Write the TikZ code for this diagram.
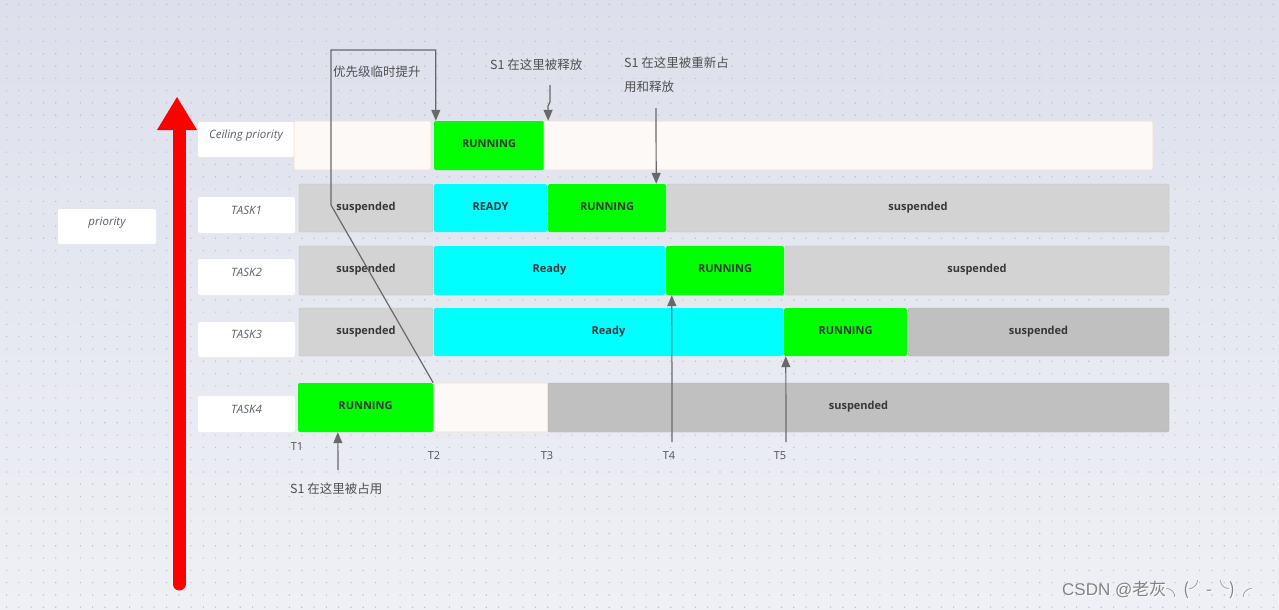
\documentclass[tikz,border=0pt]{standalone}
\usepackage{fontspec}
\setmainfont{Open Sans}
\newfontfamily\cjk{Noto Sans CJK SC}
\newfontfamily\lib{Liberation Sans}
\usetikzlibrary{arrows.meta,calc}
\definecolor{bgtop}{RGB}{221,224,236}
\definecolor{bgbot}{RGB}{239,240,245}
\definecolor{dotc}{RGB}{188,191,204}
\definecolor{runc}{RGB}{0,255,0}
\definecolor{readyc}{RGB}{0,255,255}
\definecolor{suspc}{RGB}{211,211,211}
\definecolor{suspd}{RGB}{192,192,192}
\definecolor{beige}{RGB}{253,249,246}
\definecolor{beigeb}{RGB}{246,222,203}
\definecolor{txtdark}{RGB}{55,55,55}
\definecolor{lbltxt}{RGB}{90,95,107}
\definecolor{linec}{RGB}{105,105,105}
\definecolor{annc}{RGB}{80,80,80}
\definecolor{wmc}{RGB}{130,130,130}
\newcommand\gbar[7]{\node[#2, minimum width={(#4-#3)*1pt}, minimum height={(#6-#5)*1pt}] (#1) at ({(#3+#4)/2},{(#5+#6)/2}) {#7};}
\begin{document}
\begin{tikzpicture}[x=1pt,y=-1pt,
  bar/.style={rounded corners=2pt, inner sep=0pt, text height=8pt, text depth=4pt,
    font=\fontsize{11}{13}\selectfont\bfseries, text=txtdark},
  run/.style={bar, fill=runc},
  ready/.style={bar, fill=readyc},
  susp/.style={bar, fill=suspc, draw=suspc!92!black, line width=0.4pt},
  suspdk/.style={bar, fill=suspd, draw=suspd!92!black, line width=0.4pt},
  idle/.style={bar, fill=beige, draw=beigeb, line width=0.6pt},
  lblbox/.style={rounded corners=2pt, fill=white, inner sep=0pt, text height=8.5pt, text depth=10pt,
    font=\fontsize{11.5}{14}\selectfont\itshape, text=lbltxt},
  conn/.style={draw=linec, line width=1.2pt, -{Triangle[width=9pt,length=11pt]}},
  ann/.style={font=\cjk\fontsize{12.5}{24}\selectfont, text=annc, inner sep=0pt},
  tlab/.style={font=\fontsize{11}{12}\selectfont, text=annc, inner sep=0pt}]
\useasboundingbox (0,0) rectangle (1279,610);
\shade[top color=bgtop, bottom color=bgbot] (0,0) rectangle (1279,610);
\fill[dotc] \foreach \i in {0,...,103} {\foreach \j in {0,...,49} {({6+\i*12.3},{4+\j*12.3}) rectangle ++(1.1,1.1)}};
% priority arrow
\draw[red, line width=13pt, line cap=round] (179,584) -- (179,126);
\fill[red] (157,130) -- (177,97) -- (197,130) -- cycle;
% labels
\gbar{prio}{lblbox}{58}{156}{209}{244}{priority}
\gbar{lceil}{lblbox}{198}{294}{122}{157}{Ceiling priority}
\gbar{l1}{lblbox}{198}{295}{197}{233}{TASK1}
\gbar{l2}{lblbox}{198}{295}{259}{295}{TASK2}
\gbar{l3}{lblbox}{198}{295}{322}{357}{TASK3}
\gbar{l4}{lblbox}{198}{295}{396}{432}{TASK4}
% ceiling row
\gbar{c0}{idle}{294}{431}{121}{170}{}
\gbar{crun}{run}{434}{544}{121}{170}{RUNNING}
\gbar{c2}{idle}{544}{1153}{121}{170}{}
% task1
\gbar{a0}{susp}{299}{433}{184}{232}{suspended}
\gbar{a1}{ready}{434}{547}{184}{232}{READY}
\gbar{arun}{run}{548}{666}{184}{232}{RUNNING}
\gbar{a3}{susp}{667}{1169}{184}{232}{suspended}
% task2
\gbar{b0}{susp}{299}{433}{246}{295}{suspended}
\gbar{b1}{ready}{434}{665}{246}{295}{Ready}
\gbar{brun}{run}{666}{784}{246}{295}{RUNNING}
\gbar{b3}{susp}{785}{1169}{246}{295}{suspended}
% task3
\gbar{d0}{susp}{299}{433}{308}{356}{suspended}
\gbar{d1}{ready}{434}{783}{308}{356}{Ready}
\gbar{drun}{run}{784}{907}{308}{356}{RUNNING}
\gbar{d3}{suspdk}{908}{1169}{308}{356}{suspended}
% task4
\gbar{erun}{run}{298}{433}{383}{432}{RUNNING}
\gbar{e1}{idle}{435}{548}{383}{432}{}
\gbar{e2}{suspdk}{548}{1169}{383}{432}{suspended}
% time labels
\node[tlab] (t1) at (297,447) {T1};
\node[tlab] (t2) at (434,456) {T2};
\node[tlab] (t3) at (547,456) {T3};
\node[tlab] (t4) at (669,456) {T4};
\node[tlab] (t5) at (780,456) {T5};
% annotations
\node[ann, anchor=west] (boost) at (333,72) {优先级临时提升};
\node[ann, anchor=west] (rel) at (490,65) {S1 在这里被释放};
\node[ann, anchor=north west, align=left] (reacq) at (624,57) {S1 在这里被重新占\\用和释放};
\node[ann, anchor=west] (take) at (290,489) {S1 在这里被占用};
% connectors
\coordinate (bA) at (331,205);
\coordinate (bB) at (331,50);
\draw[conn] (erun.north east) -- (bA) -- (bB) -| ([xshift=2pt]crun.north west);
\coordinate (rA) at (550,85);
\draw[conn] (rA) -- (550,102) -- (548,106) -- ([xshift=4pt]crun.north east);
\coordinate (qA) at (656,108);
\draw[conn] (qA) -- ([xshift=-10pt]arun.north east);
\coordinate (sA) at (338,470);
\draw[conn] (sA) -- ([xshift=40pt]erun.south west);
\coordinate (t4A) at (672,442);
\draw[conn] (t4A) -- ([xshift=6pt]brun.south west);
\coordinate (t5A) at (786,442);
\draw[conn] (t5A) -- ([xshift=2pt]drun.south west);
% watermark
\node[anchor=west, inner sep=0pt, text=white] at (1063,591) {\fontsize{17}{20}\selectfont\lib CSDN @\cjk 老灰╮(╯-╰)╭};
\node[anchor=west, inner sep=0pt, text=wmc] (wm) at (1062,590) {\fontsize{17}{20}\selectfont\lib CSDN @\cjk 老灰╮(╯-╰)╭};
\end{tikzpicture}
\end{document}
